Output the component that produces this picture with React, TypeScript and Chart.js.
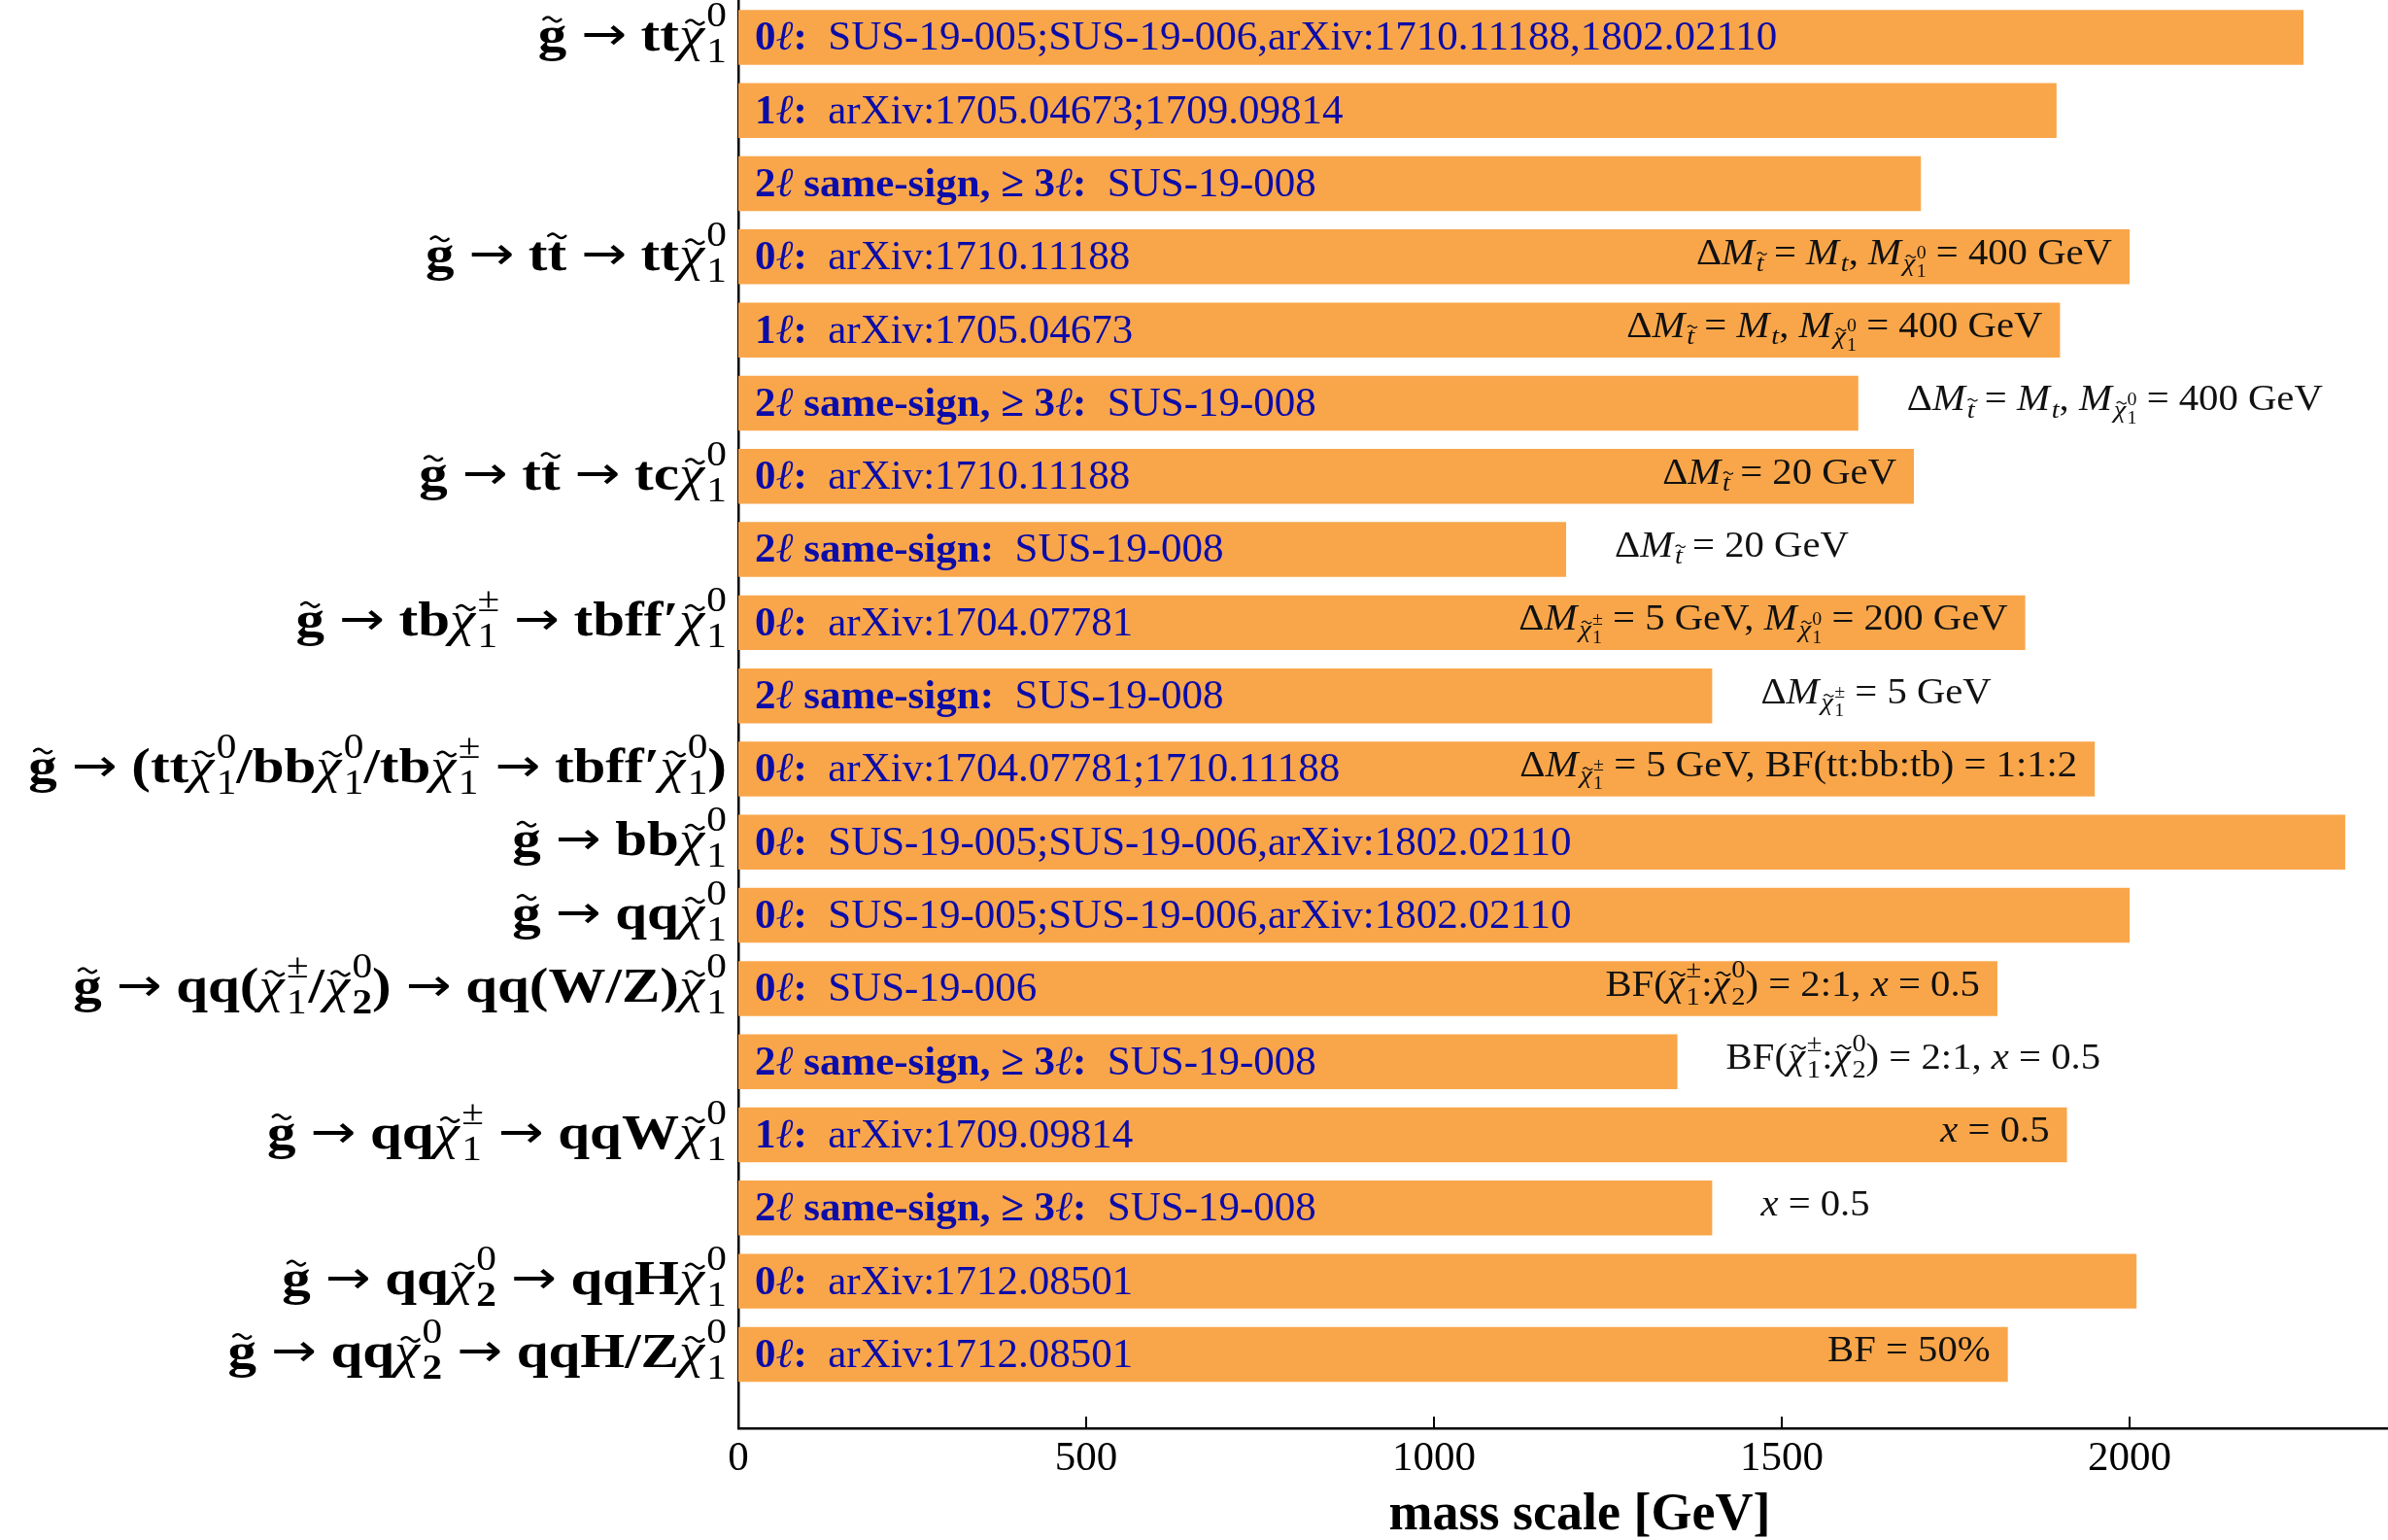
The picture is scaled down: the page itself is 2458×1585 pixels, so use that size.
import { useEffect, useRef } from "react";
import { Chart, registerables } from "chart.js";

Chart.register(...registerables);

// ---------------- data ----------------
const ROW_VALUES = [2250, 1895, 1700, 2000, 1900, 1610, 1690, 1190, 1850, 1400, 1950, 2310, 2000, 1810, 1350, 1910, 1400, 2010, 1825];

const BAR_TEXTS = [
  "*0*$ℓ$*:*  SUS-19-005;SUS-19-006,arXiv:1710.11188,1802.02110",
  "*1*$ℓ$*:*  arXiv:1705.04673;1709.09814",
  "*2*$ℓ$* same-sign, ≥ 3*$ℓ$*:*  SUS-19-008",
  "*0*$ℓ$*:*  arXiv:1710.11188",
  "*1*$ℓ$*:*  arXiv:1705.04673",
  "*2*$ℓ$* same-sign, ≥ 3*$ℓ$*:*  SUS-19-008",
  "*0*$ℓ$*:*  arXiv:1710.11188",
  "*2*$ℓ$* same-sign:*  SUS-19-008",
  "*0*$ℓ$*:*  arXiv:1704.07781",
  "*2*$ℓ$* same-sign:*  SUS-19-008",
  "*0*$ℓ$*:*  arXiv:1704.07781;1710.11188",
  "*0*$ℓ$*:*  SUS-19-005;SUS-19-006,arXiv:1802.02110",
  "*0*$ℓ$*:*  SUS-19-005;SUS-19-006,arXiv:1802.02110",
  "*0*$ℓ$*:*  SUS-19-006",
  "*2*$ℓ$* same-sign, ≥ 3*$ℓ$*:*  SUS-19-008",
  "*1*$ℓ$*:*  arXiv:1709.09814",
  "*2*$ℓ$* same-sign, ≥ 3*$ℓ$*:*  SUS-19-008",
  "*0*$ℓ$*:*  arXiv:1712.08501",
  "*0*$ℓ$*:*  arXiv:1712.08501",
];

// labels are bold by default; "*" toggles bold, "$" marks math italic, "~" puts a tilde on the next glyph
const PROCESS_LABELS = [
  "~g → tt~$χ$_{*1*}^{*0*}",
  "",
  "",
  "~g → t~t → tt~$χ$_{*1*}^{*0*}",
  "",
  "",
  "~g → t~t → tc~$χ$_{*1*}^{*0*}",
  "",
  "~g → tb~$χ$_{*1*}^{*±*} → tbff′~$χ$_{*1*}^{*0*}",
  "",
  "~g → (tt~$χ$_{*1*}^{*0*}/bb~$χ$_{*1*}^{*0*}/tb~$χ$_{*1*}^{*±*} → tbff′~$χ$_{*1*}^{*0*})",
  "~g → bb~$χ$_{*1*}^{*0*}",
  "~g → qq~$χ$_{*1*}^{*0*}",
  "~g → qq(~$χ$_{*1*}^{*±*}/~$χ$_{2}^{*0*}) → qq(W/Z)~$χ$_{*1*}^{*0*}",
  "",
  "~g → qq~$χ$_{*1*}^{*±*} → qqW~$χ$_{*1*}^{*0*}",
  "",
  "~g → qq~$χ$_{2}^{*0*} → qqH~$χ$_{*1*}^{*0*}",
  "~g → qq~$χ$_{2}^{*0*} → qqH/Z~$χ$_{*1*}^{*0*}",
];

const ANNOTATIONS = [
  "",
  "",
  "",
  "Δ$M$_{~$t$} = $M$_{$t$}, $M$_{~$χ$_{1}^{0}} = 400 GeV",
  "Δ$M$_{~$t$} = $M$_{$t$}, $M$_{~$χ$_{1}^{0}} = 400 GeV",
  "Δ$M$_{~$t$} = $M$_{$t$}, $M$_{~$χ$_{1}^{0}} = 400 GeV",
  "Δ$M$_{~$t$} = 20 GeV",
  "Δ$M$_{~$t$} = 20 GeV",
  "Δ$M$_{~$χ$_{1}^{±}} = 5 GeV, $M$_{~$χ$_{1}^{0}} = 200 GeV",
  "Δ$M$_{~$χ$_{1}^{±}} = 5 GeV",
  "Δ$M$_{~$χ$_{1}^{±}} = 5 GeV, BF(tt:bb:tb) = 1:1:2",
  "",
  "",
  "BF(~$χ$_{1}^{±}:~$χ$_{2}^{0}) = 2:1, $x$ = 0.5",
  "BF(~$χ$_{1}^{±}:~$χ$_{2}^{0}) = 2:1, $x$ = 0.5",
  "$x$ = 0.5",
  "$x$ = 0.5",
  "",
  "BF = 50%",
];

// "in" = right-aligned inside the bar end, "out" = placed after the bar end
const ANNOT_PLACE = ["", "", "", "in", "in", "out", "in", "out", "in", "out", "in", "", "", "in", "out", "in", "out", "", "in"];

const X_TICKS = [0, 500, 1000, 1500, 2000];
const X_MAX = 2419;
const Y_MIN = -0.51;
const Y_MAX = 19.01;
const X_TITLE = "mass scale [GeV]";

// ---------------- style ----------------
const FONT = '"Liberation Serif", "DejaVu Serif", serif';
const SYM_FONT = '"DejaVu Sans", sans-serif';
const BAR_COLOR = "rgb(249,166,74)";
const BLUE = "#0c0ca8";
const BAR_FONT = 43;
const LABEL_FONT = 50;
const LABEL_STRETCH = 1.18;
const ANNOT_FONT = 37;
const ANNOT_STRETCH = 1.1;
const CANVAS_W = 2492;
const CANVAS_H = 1585;

// ---------------- rich text ----------------
type Tok =
  | { k: "r"; t: string; b: boolean; i: boolean; tilde: boolean; sym: boolean }
  | { k: "s"; sub: Tok[] | null; sup: Tok[] | null };

function parseRich(src: string, baseBold: boolean): Tok[] {
  let pos = 0;
  const chars = Array.from(src);
  function seq(bold: boolean, italic: boolean, closing: boolean): Tok[] {
    const out: Tok[] = [];
    let b = bold;
    let it = italic;
    let tilde = false;
    while (pos < chars.length) {
      const c = chars[pos];
      if (closing && c === "}") {
        pos++;
        break;
      }
      if (c === "*") { b = !b; pos++; continue; }
      if (c === "$") { it = !it; pos++; continue; }
      if (c === "~") { tilde = true; pos++; continue; }
      if ((c === "_" || c === "^") && chars[pos + 1] === "{") {
        pos += 2;
        const g = seq(b, false, true);
        let sub: Tok[] | null = c === "_" ? g : null;
        let sup: Tok[] | null = c === "^" ? g : null;
        const n = chars[pos];
        if ((n === "_" || n === "^") && n !== c && chars[pos + 1] === "{") {
          pos += 2;
          const g2 = seq(b, false, true);
          if (n === "_") sub = g2;
          else sup = g2;
        }
        out.push({ k: "s", sub, sup });
        continue;
      }
      const sym = c === "→";
      out.push({ k: "r", t: c, b: b && !it && !sym, i: it, tilde, sym });
      tilde = false;
      pos++;
    }
    const merged: Tok[] = [];
    for (const t of out) {
      const last = merged[merged.length - 1];
      if (
        t.k === "r" && !t.tilde && !t.sym && last && last.k === "r" && !last.tilde && !last.sym &&
        last.b === t.b && last.i === t.i
      ) {
        last.t += t.t;
      } else {
        merged.push(t.k === "r" ? { ...t } : t);
      }
    }
    return merged;
  }
  return seq(baseBold, false, false);
}

function fontStr(size: number, t: { b: boolean; i: boolean; sym: boolean }) {
  if (t.sym) return `${size * 0.95}px ${SYM_FONT}`;
  return `${t.i ? "italic " : ""}${t.b ? "bold " : ""}${size}px ${FONT}`;
}

function measureRich(ctx: CanvasRenderingContext2D, toks: Tok[], size: number, sx: number): number {
  let w = 0;
  for (const t of toks) {
    if (t.k === "r") {
      ctx.font = fontStr(size, t);
      w += ctx.measureText(t.t).width * sx;
    } else {
      const s = size * 0.7;
      const a = t.sub ? measureRich(ctx, t.sub, s, sx) : 0;
      const c = t.sup ? measureRich(ctx, t.sup, s, sx) : 0;
      w += Math.max(a, c) + size * 0.05;
    }
  }
  return w;
}

function drawTilde(ctx: CanvasRenderingContext2D, cx: number, cy: number, w: number, size: number) {
  const h = size * 0.045;
  ctx.save();
  ctx.lineWidth = Math.max(1, size * 0.05);
  ctx.lineCap = "round";
  ctx.beginPath();
  const n = 16;
  for (let k = 0; k <= n; k++) {
    const f = k / n;
    const px = cx - w / 2 + w * f;
    const py = cy - h * Math.sin(f * Math.PI * 2);
    if (k === 0) ctx.moveTo(px, py);
    else ctx.lineTo(px, py);
  }
  ctx.stroke();
  ctx.restore();
}

function drawRich(ctx: CanvasRenderingContext2D, toks: Tok[], x: number, y: number, size: number, sx: number): number {
  for (const t of toks) {
    if (t.k === "r") {
      ctx.font = fontStr(size, t);
      const m = ctx.measureText(t.t);
      ctx.save();
      ctx.translate(x, t.sym ? y - size * 0.02 : y);
      ctx.scale(sx, 1);
      ctx.fillText(t.t, 0, 0);
      ctx.restore();
      const w = m.width * sx;
      if (t.tilde) {
        const top = y - m.actualBoundingBoxAscent;
        drawTilde(ctx, x + w / 2 + (t.i ? size * 0.07 : 0), top - size * 0.12, size * 0.36, size);
      }
      x += w;
    } else {
      const s = size * 0.7;
      const gap = size * 0.05;
      const a = t.sub ? measureRich(ctx, t.sub, s, sx) : 0;
      const c = t.sup ? measureRich(ctx, t.sup, s, sx) : 0;
      if (t.sub) drawRich(ctx, t.sub, x + gap, y + size * (t.sup ? 0.24 : 0.2), s, sx);
      if (t.sup) drawRich(ctx, t.sup, x + gap, y - size * 0.5, s, sx);
      x += Math.max(a, c) + gap;
    }
  }
  return x;
}

// ---------------- overlay plugin ----------------
const overlayPlugin = {
  id: "overlay",
  afterDatasetsDraw(chart: any) {
    const ctx: CanvasRenderingContext2D = chart.ctx;
    const xs = chart.scales.x;
    const ys = chart.scales.y;
    const area = chart.chartArea;
    ctx.save();
    ctx.textAlign = "left";
    ctx.textBaseline = "alphabetic";

    // texts inside bars
    ctx.fillStyle = BLUE;
    ctx.strokeStyle = BLUE;
    BAR_TEXTS.forEach((txt, i) => {
      const cy = ys.getPixelForValue(i);
      drawRich(ctx, parseRich(txt, false), xs.getPixelForValue(0) + 17, cy + BAR_FONT * 0.3, BAR_FONT, 1);
    });

    // annotations
    ctx.fillStyle = "#111";
    ctx.strokeStyle = "#111";
    ANNOTATIONS.forEach((txt, i) => {
      if (!txt) return;
      const toks = parseRich(txt, false);
      const cy = ys.getPixelForValue(i);
      const end = xs.getPixelForValue(ROW_VALUES[i]);
      const w = measureRich(ctx, toks, ANNOT_FONT, ANNOT_STRETCH);
      const x0 = ANNOT_PLACE[i] === "in" ? end - 18 - w : end + 50;
      drawRich(ctx, toks, x0, cy + ANNOT_FONT * 0.2, ANNOT_FONT, ANNOT_STRETCH);
    });

    // process labels (y axis)
    ctx.fillStyle = "#000";
    ctx.strokeStyle = "#000";
    PROCESS_LABELS.forEach((txt, i) => {
      if (!txt) return;
      const toks = parseRich(txt, true);
      const cy = ys.getPixelForValue(i);
      const w = measureRich(ctx, toks, LABEL_FONT, LABEL_STRETCH);
      drawRich(ctx, toks, area.left - 12 - w, cy + LABEL_FONT * 0.27, LABEL_FONT, LABEL_STRETCH);
    });

    // inward x ticks
    ctx.strokeStyle = "#000";
    ctx.lineWidth = 2;
    X_TICKS.forEach((v) => {
      const px = xs.getPixelForValue(v);
      ctx.beginPath();
      ctx.moveTo(px, area.bottom);
      ctx.lineTo(px, area.bottom - 12);
      ctx.stroke();
    });
    ctx.restore();
  },
};

export default function App() {
  const ref = useRef<HTMLCanvasElement | null>(null);
  useEffect(() => {
    if (!ref.current) return;
    const chart = new Chart(ref.current, {
      type: "bar",
      data: {
        datasets: [
          {
            data: ROW_VALUES.map((v, i) => ({ x: v, y: i })),
            backgroundColor: BAR_COLOR,
            borderWidth: 0,
            barPercentage: 0.75,
            categoryPercentage: 1,
          },
        ],
      },
      options: {
        indexAxis: "y",
        animation: false,
        responsive: false,
        devicePixelRatio: 1,
        layout: { padding: 0 },
        plugins: { legend: { display: false }, tooltip: { enabled: false }, title: { display: false } },
        scales: {
          x: {
            type: "linear",
            min: 0,
            max: X_MAX,
            offset: false,
            grid: { display: false, drawTicks: false },
            border: { display: true, color: "#000", width: 2.5 },
            ticks: {
              font: { family: FONT, size: 43 },
              color: "#000",
              padding: 6,
              maxRotation: 0,
              autoSkip: false,
              callback: (v: any) => String(v),
            },
            afterBuildTicks: (s: any) => {
              s.ticks = X_TICKS.map((v) => ({ value: v }));
            },
            afterFit: (s: any) => {
              s.height = 115;
            },
            title: {
              display: true,
              text: X_TITLE,
              color: "#000",
              font: { family: FONT, size: 54, weight: "bold", lineHeight: 0.9 },
              padding: { top: 0, bottom: 1 },
            },
          },
          y: {
            type: "linear",
            reverse: true,
            min: Y_MIN,
            max: Y_MAX,
            offset: false,
            bounds: "data",
            z: 1,
            grid: { display: false, drawTicks: false, offset: false },
            border: { display: true, color: "#000", width: 2.5 },
            ticks: { display: false },
            afterDataLimits: (s: any) => {
              s.min = Y_MIN;
              s.max = Y_MAX;
            },
            afterBuildTicks: (s: any) => {
              s.ticks = ROW_VALUES.map((_, i) => ({ value: i }));
              s.min = Y_MIN;
              s.max = Y_MAX;
            },
            afterFit: (s: any) => {
              s.width = 760;
            },
          },
        },
      } as any,
      plugins: [overlayPlugin],
    });
    return () => chart.destroy();
  }, []);
  return (
    <div style={{ position: "fixed", left: 0, top: 0, width: CANVAS_W, height: CANVAS_H, background: "#fff" }}>
      <canvas ref={ref} width={CANVAS_W} height={CANVAS_H} style={{ width: CANVAS_W, height: CANVAS_H, display: "block" }} />
    </div>
  );
}
